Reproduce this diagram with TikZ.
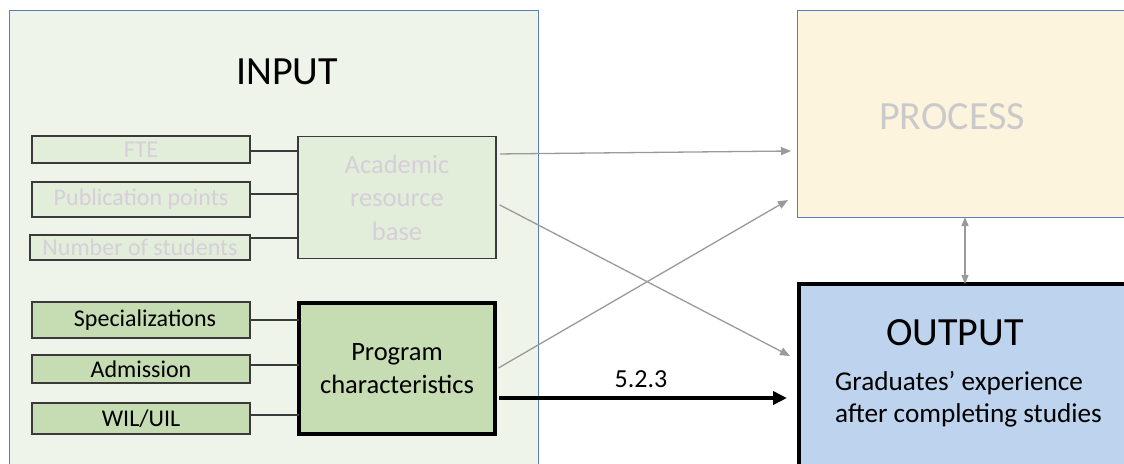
\documentclass[tikz,border=0pt]{standalone}
\usepackage{fontspec}
\setmainfont{Carlito}
\usetikzlibrary{arrows.meta}

\definecolor{inbg}{HTML}{EEF4E9}
\definecolor{framebl}{HTML}{5B7DC0}
\definecolor{palegreen}{HTML}{E2EEDA}
\definecolor{midgreen}{HTML}{C6DCB3}
\definecolor{procbg}{HTML}{FDF4DE}
\definecolor{outbg}{HTML}{BDD3EE}
\definecolor{fadetext}{HTML}{D6CED8}
\definecolor{proctext}{HTML}{CACACA}
\definecolor{linkgray}{HTML}{9A9A9A}
\definecolor{boxedge}{HTML}{3A3A3A}

\tikzset{
  panel/.style={draw=framebl, line width=0.9pt, inner sep=0pt, outer sep=0pt},
  itembox/.style={draw=boxedge, line width=1.4pt, inner sep=0pt, outer sep=0pt,
    minimum width=218pt, font=\fontsize{24}{28}\selectfont},
  faded/.style={itembox, fill=palegreen, text=fadetext},
  solid item/.style={itembox, fill=midgreen, text=black},
  groupbox/.style={inner sep=0pt, outer sep=0pt, align=center,
    font=\fontsize{26.5}{33.5}\selectfont},
  title/.style={inner sep=0pt, font=\fontsize{40}{48}\selectfont},
  tie/.style={draw=boxedge, line width=1.4pt},
  graylink/.style={draw=linkgray, line width=1.3pt,
    -{Triangle[length=10pt,width=8pt]}, shorten <=4pt},
  boldlink/.style={draw=black, line width=3.6pt,
    -{Triangle[length=14pt,width=13pt]}, shorten <=4pt}
}

\begin{document}
\begin{tikzpicture}[x=1pt,y=-1pt]
\useasboundingbox (0,0) rectangle (1124,463);
\clip (0,0) rectangle (1124,463);
\fill[white] (0,0) rectangle (1124,463);

% three main panels
\node[panel, fill=inbg, minimum width=529pt, minimum height=470pt] (inpanel) at (273.5,245) {};
\node[panel, fill=procbg, minimum width=343pt, minimum height=207pt] (proc) at (968.5,113.5) {};
\node[draw=black, line width=4pt, fill=outbg, inner sep=0pt, outer sep=0pt,
      minimum width=341pt, minimum height=196pt] (out) at (969.5,382) {};

% panel titles
\node[title] (intitle) at (287,72) {INPUT};
\node[title, text=proctext] (proctitle) at (952,117) {PROCESS};
\node[title] (outtitle) at (955,333) {OUTPUT};
\node[anchor=west, align=left, inner sep=0pt,
      font=\fontsize{27.2}{32}\selectfont] (outtext) at (835,399)
  {Graduates’ experience\\after completing studies};

% academic resource base group
\node[faded, minimum height=27pt] (fte) at (141,149.5) {FTE};
\node[faded, minimum height=35pt] (pub) at (141,199.5) {Publication points};
\node[faded, minimum width=220pt, minimum height=25pt] (nstud) at (140,247.5) {Number of students};
\node[groupbox, draw=boxedge, line width=1.4pt, fill=palegreen, text=fadetext,
      minimum width=198pt, minimum height=122pt] (acad) at (397,197.5)
  {Academic\\resource\\base};

\draw[tie] ([yshift=-1.5pt]fte.east) -- ([yshift=-1.5pt]fte.east -| acad.west);
\draw[tie] ([yshift=5.5pt]pub.east) -- ([yshift=5.5pt]pub.east -| acad.west);
\draw[tie] ([yshift=9.5pt]nstud.east) -- ([yshift=9.5pt]nstud.east -| acad.west);

% program characteristics group
\node[solid item, minimum height=36pt] (spec) at (141,320) {\hspace*{8pt}Specializations};
\node[solid item, minimum height=28pt] (adm) at (141,369) {Admission};
\node[solid item, minimum height=31pt] (wil) at (141,418.5) {WIL/UIL};
\node[groupbox, draw=black, line width=4.5pt, fill=midgreen,
      minimum width=196pt, minimum height=131pt] (prog) at (397,368.5)
  {Program\\characteristics};

\draw[tie] (spec.east) -- (spec.east -| prog.west);
\draw[tie] ([yshift=4pt]adm.east) -- ([yshift=4pt]adm.east -| prog.west);
\draw[tie] ([yshift=3.5pt]wil.east) -- ([yshift=3.5pt]wil.east -| prog.west);

% links between the stages
\draw[graylink] ([yshift=43.5pt]acad.east) -- ([xshift=-6pt,yshift=-37.5pt]proc.west);
\draw[graylink] ([yshift=-5.5pt]acad.east) -- ([xshift=-9pt,yshift=-72pt]out.north west);
\draw[graylink] ([yshift=-1.5pt]prog.east) -- ([xshift=-9pt,yshift=17pt]proc.south west);
\draw[boldlink] ([yshift=-29.5pt]prog.east) -- ([xshift=-12pt,yshift=-29.5pt]prog.east -| out.west)
  node[midway, above=9pt, font=\fontsize{26}{30}\selectfont, inner sep=0pt] (code) {5.2.3};
\draw[draw=linkgray, line width=1.3pt,
      {Triangle[length=9pt,width=7pt]}-{Triangle[length=9pt,width=7pt]}]
  ([xshift=168pt]proc.south west) -- ([xshift=168pt]proc.south west |- out.north);
\end{tikzpicture}
\end{document}
